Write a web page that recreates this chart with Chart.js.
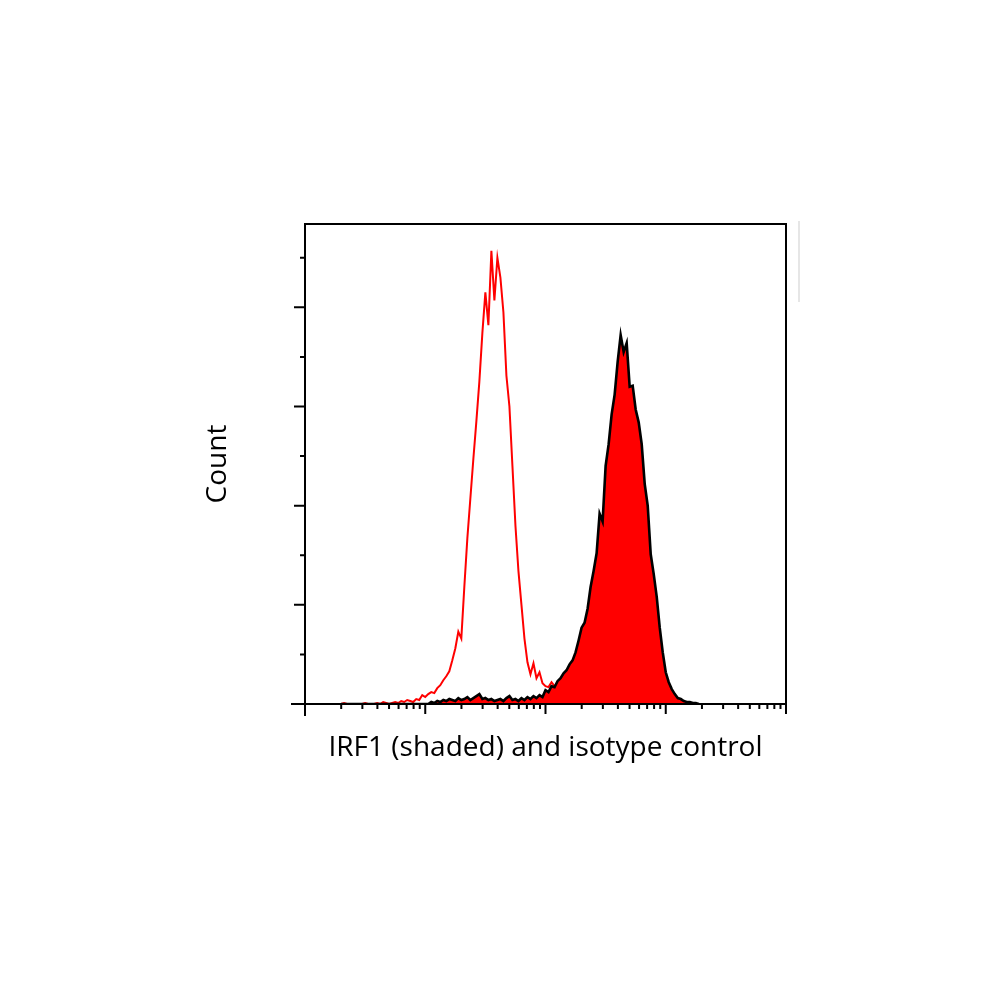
<!DOCTYPE html>
<html><head><meta charset="utf-8">
<script src="https://cdn.jsdelivr.net/npm/chart.js@4.4.1/dist/chart.umd.min.js"></script>
<style>html,body{margin:0;padding:0;background:#fff}#wrap{width:1000px;height:1000px;position:relative}</style>
</head><body><div id="wrap"><canvas id="c"></canvas></div>
<script>
// Fluorescence channel values (log-spaced histogram bins)
const fluorescence = [
  1.995,2.113,2.239,2.371,2.512,2.661,2.818,2.985,
  3.162,3.350,3.548,3.758,3.981,4.217,4.467,4.732,5.012,5.309,
  5.623,5.957,6.310,6.683,7.079,7.499,7.943,8.414,8.913,9.441,
  10.00,10.59,11.22,11.89,12.59,13.34,14.13,14.96,15.85,16.79,
  17.78,18.84,19.95,21.13,22.39,23.71,25.12,26.61,28.18,29.85,
  31.62,33.50,35.48,37.58,39.81,42.17,44.67,47.32,50.12,53.09,
  56.23,59.57,63.10,66.83,70.79,74.99,79.43,84.14,89.13,94.41,
  100.0,105.9,112.2,118.9,125.9,133.4,141.3,149.6,158.5,167.9,
  177.8,188.4,199.5,211.3,223.9,237.1,251.2,266.1,281.8,298.5,
  316.2,335.0,354.8,375.8,398.1,421.7,446.7,473.2,501.2,530.9,
  562.3,595.7,631.0,668.3,707.9,749.9,794.3,841.4,891.3,944.1,
  1000,1059,1122,1189,1259,1334,1413,1496,1585,1679,1778,1884
];
// Isotype control (red outline)
const isotypeCounts = [
  0,1,0,0,0,0,0,0,
  1,0,0,0,1,0,2,1,0,1,
  2,1,3,2,4,3,2,5,4,9,
  7,10,12,11,16,19,24,28,33,44,
  56,73,66,118,167,207,247,285,325,374,
  415,382,457,407,450,430,395,331,300,240,
  180,134,100,66,42,30,41,26,32,21,
  18,17,22,18,12,10,8,6,5,4,
  3,3,2,2,1,1,0,0,0,0,
  0,0,0,0,0,0,0,0,0,0,
  0,0,0,0,0,0,0,0,0,0,
  0,0,0,0,0,0,0,0,0,0,0,0
];
// IRF1 (shaded, black outline)
const irf1Counts = [
  0,0,0,0,0,0,0,0,
  0,0,0,0,0,0,0,0,0,0,
  0,0,0,0,0,0,0,0,0,0,
  0,0,2,1,3,2,4,3,5,4,
  3,6,4,5,7,4,6,8,10,5,
  6,4,5,3,4,5,3,6,8,4,
  5,3,6,4,7,5,8,6,9,7,
  14,12,18,17,23,26,31,34,40,44,
  52,64,77,82,96,118,134,152,192,184,
  240,262,292,312,345,372,355,364,320,321,
  297,284,262,222,200,151,131,108,77,52,
  32,22,15,10,6,5,3,2,2,1,1,0
];
const xMajorTicks = [1, 10, 100, 1000, 10000];
const xMinorTicks = [2,3,4,5,6,7,8,9, 20,30,40,50,60,70,80,90, 200,300,400,500,600,700,800,900, 2000,3000,4000,5000,6000,7000,8000,9000];
const yMajorTicks = [0, 100, 200, 300, 400];
const yMinorTicks = [50, 150, 250, 350, 450];
const xTitle = 'IRF1 (shaded) and isotype control';
const yTitle = 'Count';

const fcsAxes = {
  id: 'fcsAxes',
  afterDatasetsDraw(chart) {
    const {ctx, chartArea: a, scales: {x, y}} = chart;
    ctx.save();
    ctx.strokeStyle = '#000';
    ctx.lineWidth = 2;
    ctx.beginPath();
    ctx.moveTo(a.left, a.bottom + 12); ctx.lineTo(a.left, a.top);
    ctx.lineTo(a.right, a.top); ctx.lineTo(a.right, a.bottom + 10);
    ctx.moveTo(a.left - 14, a.bottom); ctx.lineTo(a.right, a.bottom);
    xMajorTicks.forEach(v => { const px = x.getPixelForValue(v); ctx.moveTo(px, a.bottom); ctx.lineTo(px, a.bottom + 10); });
    xMinorTicks.forEach(v => { const px = x.getPixelForValue(v); ctx.moveTo(px, a.bottom); ctx.lineTo(px, a.bottom + 5); });
    yMajorTicks.forEach(v => { const py = y.getPixelForValue(v); ctx.moveTo(a.left - 11, py); ctx.lineTo(a.left, py); });
    yMinorTicks.forEach(v => { const py = y.getPixelForValue(v); ctx.moveTo(a.left - 5, py); ctx.lineTo(a.left, py); });
    ctx.stroke();
    ctx.strokeStyle = '#dedede';
    ctx.lineWidth = 1.5;
    ctx.beginPath();
    ctx.moveTo(a.right + 13, a.top - 3); ctx.lineTo(a.right + 13, a.top + 78);
    ctx.stroke();
    ctx.restore();
  }
};

new Chart(document.getElementById('c'), {
  type: 'line',
  data: {
    datasets: [
      { label: 'IRF1', data: fluorescence.map((v, i) => ({x: v, y: irf1Counts[i]})),
        borderColor: '#000', borderWidth: 2.6, backgroundColor: '#ff0000', fill: 'origin',
        pointRadius: 0, tension: 0 },
      { label: 'Isotype control', data: fluorescence.map((v, i) => ({x: v, y: isotypeCounts[i]})),
        borderColor: '#ff0000', borderWidth: 2, fill: false, pointRadius: 0, tension: 0 }
    ]
  },
  options: {
    responsive: true, maintainAspectRatio: false, animation: false,
    layout: { padding: { left: 0, top: 224, right: 214, bottom: 0 } },
    plugins: { legend: { display: false }, tooltip: { enabled: false } },
    scales: {
      x: { type: 'logarithmic', min: 1, max: 10000,
        ticks: { display: false }, grid: { display: false, drawTicks: false }, border: { display: false },
        title: { display: true, text: xTitle, color: '#000', font: { family: 'Open Sans', size: 28 }, padding: { top: 0, bottom: 235 } },
        afterFit(s) { s.height = 296; } },
      y: { type: 'linear', min: 0, max: 484,
        ticks: { display: false }, grid: { display: false, drawTicks: false }, border: { display: false },
        title: { display: true, text: yTitle, color: '#000', font: { family: 'Open Sans', size: 28 }, padding: { top: 201, bottom: 0 } },
        afterFit(s) { s.width = 305; } }
    }
  },
  plugins: [fcsAxes]
});
</script></body></html>
